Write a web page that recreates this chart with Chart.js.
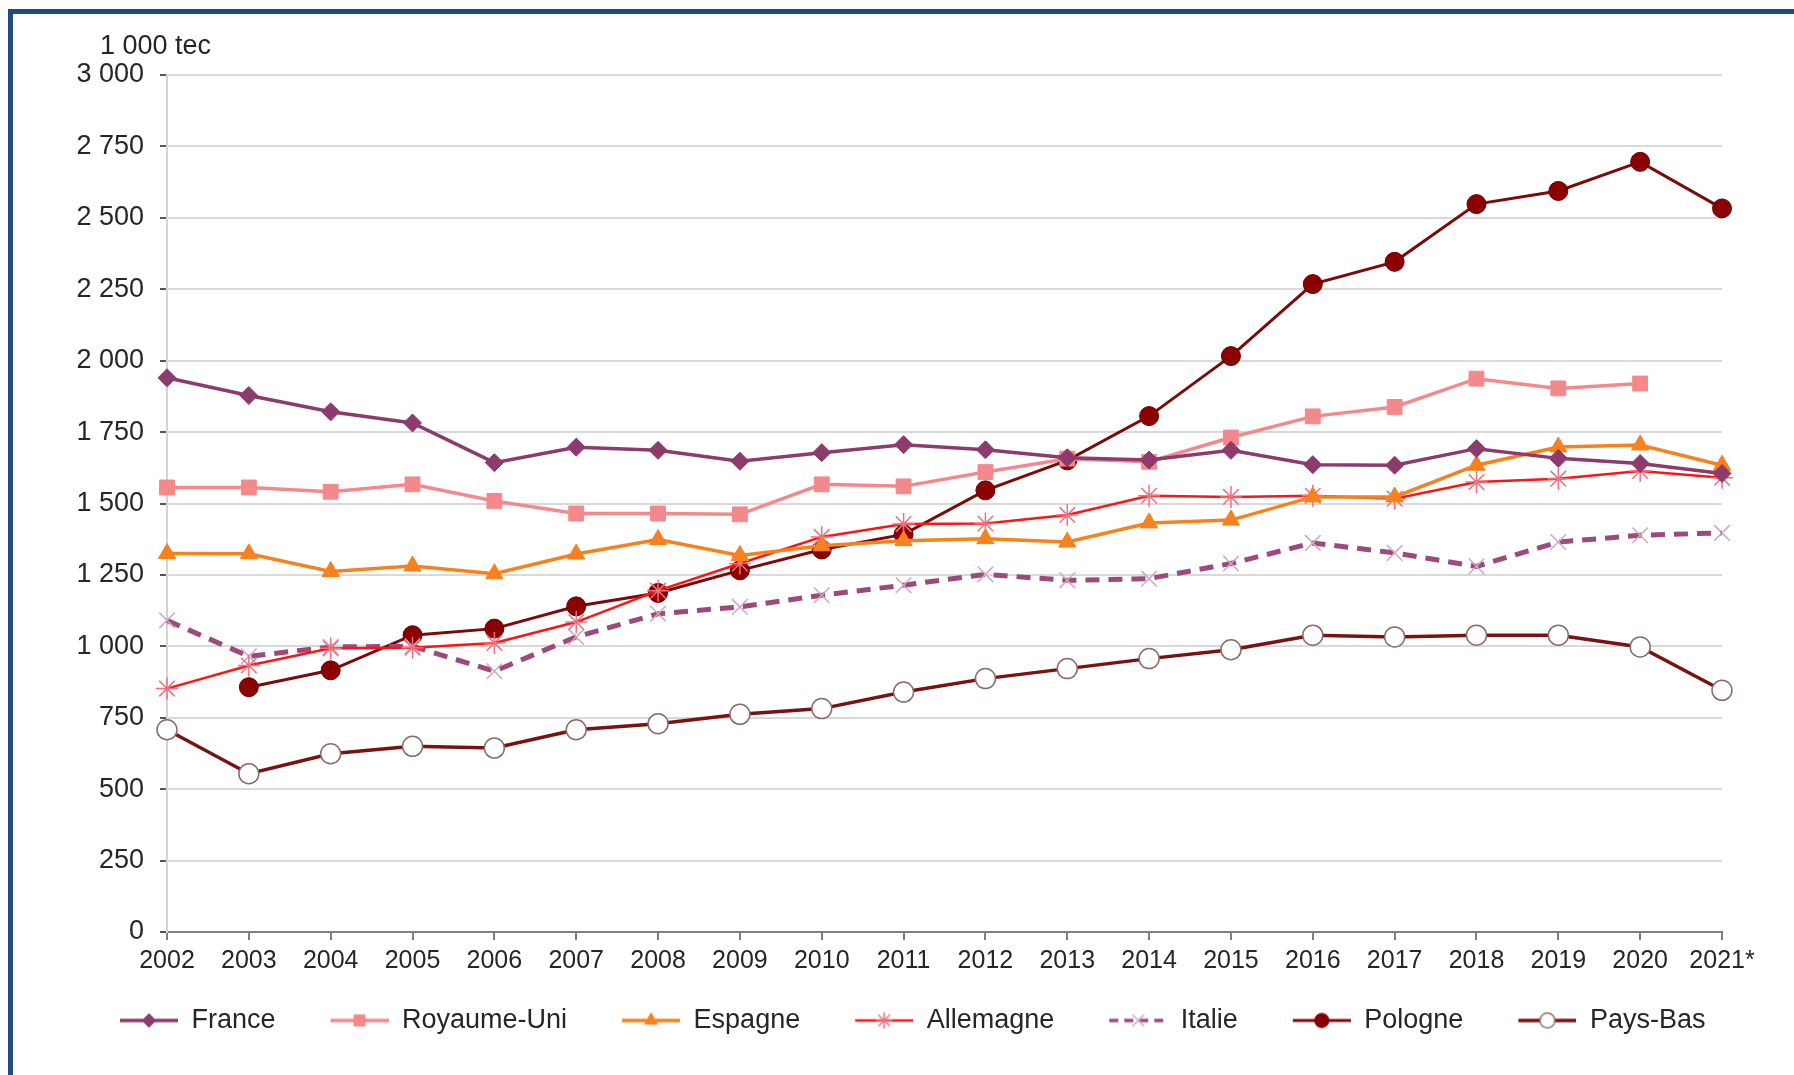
<!DOCTYPE html>
<html>
<head>
<meta charset="utf-8">
<script src="https://cdn.jsdelivr.net/npm/chart.js@4.4.0/dist/chart.umd.min.js"></script>
<style>
  body { margin: 0; background: #fff; }
  #wrap { position: relative; width: 1794px; height: 1075px; }
  #frame {
    position: absolute; left: 8px; top: 9px; right: 0; bottom: 0;
    box-sizing: border-box;
    border-top: 5px solid #234a7c; border-left: 5px solid #234a7c;
    pointer-events: none;
  }
</style>
</head>
<body>
<div id="wrap">
  <canvas id="chart" width="1794" height="1075"></canvas>
  <div id="frame"></div>
</div>
<script>
// values in 1 000 tec
var years = ['2002', '2003', '2004', '2005', '2006', '2007', '2008', '2009', '2010', '2011',
             '2012', '2013', '2014', '2015', '2016', '2017', '2018', '2019', '2020', '2021*'];
var france     = [1940, 1878, 1821, 1782, 1643, 1697, 1686, 1648, 1678, 1706, 1688, 1660, 1652, 1686, 1636, 1634, 1692, 1658, 1640, 1605];
var royaumeUni = [1556, 1556, 1541, 1567, 1509, 1465, 1465, 1462, 1567, 1560, 1610, 1657, 1646, 1731, 1805, 1838, 1937, 1903, 1920, null];
var espagne    = [1325, 1324, 1262, 1281, 1254, 1323, 1374, 1318, 1352, 1370, 1377, 1365, 1432, 1442, 1523, 1523, 1634, 1698, 1705, 1634];
var allemagne  = [852, 933, 993, 995, 1012, 1085, 1195, 1290, 1383, 1428, 1430, 1460, 1527, 1523, 1527, 1517, 1575, 1587, 1614, 1590];
var italie     = [1091, 965, 998, 1000, 913, 1033, 1114, 1138, 1179, 1214, 1252, 1231, 1237, 1290, 1362, 1327, 1280, 1365, 1389, 1397];
var pologne    = [null, 857, 916, 1039, 1062, 1140, 1187, 1266, 1339, 1392, 1546, 1651, 1806, 2016, 2268, 2346, 2548, 2594, 2696, 2533];
var paysBas    = [708, 554, 624, 650, 644, 708, 729, 762, 782, 840, 887, 922, 957, 988, 1039, 1033, 1039, 1039, 998, 846];

var yMax = 3000;
var yStep = 250;
var unitText = '1 000 tec';

var FONT = '"Liberation Sans", Arial, sans-serif';

// "3 000" style numbers
function fmt(v) {
    if (v < 1000) return String(v);
    return Math.floor(v / 1000) + ' ' + String(v % 1000).padStart(3, '0');
}

// legend picture: blank gap on the left (spacing between items), then line + marker
var GAP = 47;
var LINE = 58;
function legendImage(s) {
    var c = document.createElement('canvas');
    c.width = GAP + LINE;
    c.height = 26;
    var ctx = c.getContext('2d');
    ctx.strokeStyle = s.color;
    ctx.lineWidth = Math.min(s.width, 3.5);
    if (s.dash) ctx.setLineDash([9, 6]);
    ctx.beginPath();
    ctx.moveTo(GAP, 13);
    ctx.lineTo(GAP + LINE, 13);
    ctx.stroke();
    ctx.setLineDash([]);
    ctx.fillStyle = s.fill;
    ctx.strokeStyle = s.marker;
    ctx.lineWidth = s.markerWidth;
    if (Chart.helpers && Chart.helpers.drawPoint) {
        Chart.helpers.drawPoint(ctx, {pointStyle: s.style, radius: s.radius * 0.75, rotation: 0, borderWidth: s.markerWidth}, GAP + LINE / 2, 13);
    }
    return c;
}

var series = [
    {name: 'France', data: france, color: '#8c3b6c', width: 3.5, style: 'rectRot', radius: 9, fill: '#8c3b6c', marker: '#8c3b6c', markerWidth: 1},
    {name: 'Royaume-Uni', data: royaumeUni, color: '#f4898c', width: 3.5, style: 'rect', radius: 10.5, fill: '#f4898c', marker: '#f4898c', markerWidth: 1},
    {name: 'Espagne', data: espagne, color: '#f5821f', width: 3.5, style: 'triangle', radius: 10, fill: '#f5821f', marker: '#f5821f', markerWidth: 1},
    {name: 'Allemagne', data: allemagne, color: '#ff1414', width: 2.5, style: 'star', radius: 11, fill: '#f07080', marker: '#f07080', markerWidth: 1.5},
    {name: 'Italie', data: italie, color: '#9c4a7e', width: 5, dash: true, style: 'crossRot', radius: 11, fill: '#d2a6bd', marker: '#d2a6bd', markerWidth: 1.5},
    {name: 'Pologne', data: pologne, color: '#7d0a0a', width: 3, style: 'circle', radius: 9.5, fill: '#8b0000', marker: '#6b0000', markerWidth: 1},
    {name: 'Pays-Bas', data: paysBas, color: '#7a1212', width: 3.5, style: 'circle', radius: 10, fill: '#ffffff', marker: '#8a6a6a', markerWidth: 1.5}
];

var datasets = series.map(function(s) {
    return {
        label: s.name,
        data: s.data,
        borderColor: s.color,
        backgroundColor: s.fill,
        borderWidth: s.width,
        borderDash: s.dash ? [14, 9] : [],
        pointStyle: s.style,
        pointRadius: s.radius,
        pointHoverRadius: s.radius,
        pointBackgroundColor: s.fill,
        pointBorderColor: s.marker,
        pointBorderWidth: s.markerWidth,
        tension: 0,
        spanGaps: false,
        fill: false
    };
});

var unitLabel = {
    id: 'unitLabel',
    afterDraw: function(chart) {
        var ctx = chart.ctx;
        var a = chart.chartArea;
        ctx.save();
        ctx.font = '27px ' + FONT;
        ctx.fillStyle = '#262626';
        ctx.textBaseline = 'middle';
        ctx.fillText(unitText, a.left - 67, a.top - 28);
        ctx.restore();
    }
};

var ctx = document.getElementById('chart').getContext('2d');
var chart = new Chart(ctx, {
    type: 'line',
    data: {labels: years, datasets: datasets},
    plugins: [unitLabel],
    options: {
        responsive: false,
        animation: false,
        layout: {padding: {left: 65, right: 0, top: 75, bottom: 31}},
        plugins: {
            tooltip: {enabled: false},
            legend: {
                position: 'bottom',
                align: 'start',
                labels: {
                    usePointStyle: true,
                    pointStyleWidth: GAP + LINE,
                    padding: 8,
                    color: '#262626',
                    font: {family: FONT, size: 27},
                    generateLabels: function(chart) {
                        return series.map(function(s, i) {
                            return {text: s.name, pointStyle: legendImage(s), datasetIndex: i, lineWidth: 0, fontColor: '#262626', hidden: false};
                        });
                    }
                }
            }
        },
        scales: {
            x: {
                afterFit: function(scale) { scale.height = 67; },
                grid: {drawOnChartArea: false, drawTicks: true, tickLength: 8, tickColor: '#7f7f7f', lineWidth: 2},
                border: {color: '#7f7f7f', width: 2},
                ticks: {color: '#262626', padding: 6, maxRotation: 0, autoSkip: false, font: {family: FONT, size: 25}}
            },
            y: {
                min: 0,
                max: yMax,
                afterFit: function(scale) { scale.width = 102; },
                grid: {
                    color: function(c) { return c.tick && c.tick.value === 0 ? '#7f7f7f' : '#d9d9d9'; },
                    lineWidth: 2,
                    tickLength: 7,
                    tickColor: '#555555'
                },
                border: {color: '#d4d4d4', width: 2},
                ticks: {
                    stepSize: yStep,
                    color: '#262626',
                    padding: 16,
                    font: {family: FONT, size: 27},
                    callback: function(v) { return fmt(v); }
                }
            },
            yr: {
                position: 'right',
                display: true,
                afterFit: function(scale) { scale.width = 72; },
                grid: {display: false, drawTicks: false},
                border: {display: false},
                ticks: {display: false}
            }
        }
    }
});
</script>
</body>
</html>
